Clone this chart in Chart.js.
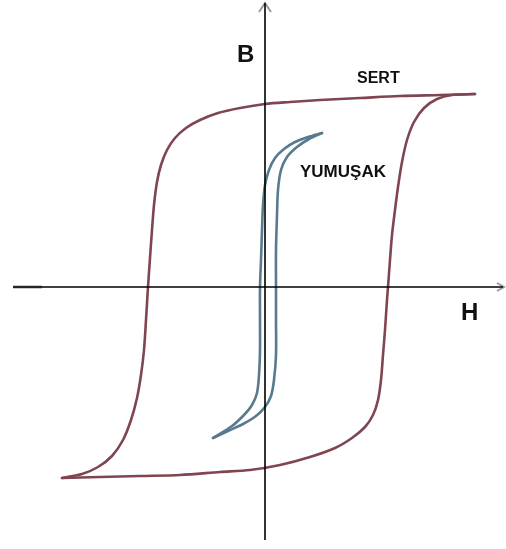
<!DOCTYPE html>
<html>
<head>
<meta charset="utf-8">
<script src="https://cdn.jsdelivr.net/npm/chart.js@4/dist/chart.umd.min.js"></script>
<style>
  html, body { margin: 0; padding: 0; background: #ffffff; }
  #wrap { position: relative; width: 506px; height: 549px; }
</style>
</head>
<body>
<div id="wrap"><canvas id="c"></canvas></div>
<script>
// Hard material loop (SERT): descending branch (from +saturation) and ascending branch
const sertDownH = [2.10, 1.75, 1.35, 0.95, 0.55, 0.25, 0.00, -0.25, -0.47, -0.65, -0.79, -0.90, -0.98, -1.04, -1.08, -1.11, -1.13, -1.15, -1.17, -1.19, -1.21, -1.24, -1.28, -1.34, -1.42, -1.53, -1.67, -1.83, -2.03];
const sertDownB = [1.93, 1.92, 1.91, 1.89, 1.87, 1.85, 1.83, 1.79, 1.74, 1.67, 1.59, 1.49, 1.37, 1.22, 1.05, 0.82, 0.57, 0.29, 0.00, -0.33, -0.63, -0.88, -1.11, -1.33, -1.53, -1.69, -1.80, -1.87, -1.91];
const sertUpH = [-2.03, -1.65, -1.25, -0.85, -0.45, -0.15, 0.15, 0.45, 0.70, 0.87, 1.00, 1.08, 1.13, 1.16, 1.18, 1.20, 1.22, 1.23, 1.25, 1.27, 1.30, 1.33, 1.37, 1.42, 1.49, 1.59, 1.72, 1.87, 2.10];
const sertUpB = [-1.91, -1.90, -1.89, -1.88, -1.85, -1.83, -1.78, -1.70, -1.61, -1.51, -1.40, -1.28, -1.13, -0.93, -0.68, -0.43, -0.13, 0.00, 0.27, 0.52, 0.77, 1.00, 1.25, 1.47, 1.65, 1.79, 1.88, 1.92, 1.93];

// Soft material loop (YUMUŞAK)
const yumDownH = [0.57, 0.43, 0.30, 0.19, 0.10, 0.04, 0.00, -0.02, -0.03, -0.04, -0.05, -0.05, -0.05, -0.06, -0.08, -0.13, -0.21, -0.33, -0.52];
const yumDownB = [1.54, 1.50, 1.45, 1.38, 1.29, 1.17, 1.02, 0.82, 0.57, 0.27, 0.00, -0.33, -0.63, -0.88, -1.06, -1.18, -1.28, -1.39, -1.51];
const yumUpH = [-0.52, -0.37, -0.22, -0.09, 0.00, 0.06, 0.09, 0.11, 0.11, 0.11, 0.11, 0.12, 0.13, 0.16, 0.22, 0.32, 0.44, 0.57];
const yumUpB = [-1.51, -1.44, -1.37, -1.29, -1.20, -1.09, -0.93, -0.68, -0.33, 0.00, 0.37, 0.72, 0.97, 1.17, 1.30, 1.40, 1.48, 1.54];

// Axis ranges (H and B, arbitrary units)
const hRange = [-2.65, 2.41];
const bRange = [-2.62, 2.87];

// Labels
const axisLabels = { b: 'B', h: 'H' };
const curveLabels = { hard: 'SERT', soft: 'YUMUŞAK' };

function pts(xs, ys) { return xs.map((x, i) => ({ x: x, y: ys[i] })); }

const hardColor = '#7f4551';
const softColor = '#587a8f';

function lineDs(data, color) {
  return {
    data: data,
    showLine: true,
    borderColor: color,
    borderWidth: 2.6,
    pointRadius: 0,
    tension: 0.3,
    fill: false,
    borderCapStyle: 'round',
    borderJoinStyle: 'round'
  };
}

const overlay = {
  id: 'overlay',
  afterDatasetsDraw(chart) {
    const ctx = chart.ctx;
    const xs = chart.scales.x, ys = chart.scales.y;
    const x0 = xs.getPixelForValue(0);
    const y0 = ys.getPixelForValue(0);
    ctx.save();
    // faint arrow remnants
    ctx.strokeStyle = '#9a9a9a';
    ctx.lineWidth = 2;
    ctx.beginPath();
    ctx.moveTo(x0 - 6, 12); ctx.lineTo(x0, 3); ctx.lineTo(x0 + 6, 12);
    ctx.stroke();
    ctx.beginPath();
    ctx.moveTo(497, y0 - 4); ctx.lineTo(504, y0); ctx.lineTo(497, y0 + 4);
    ctx.stroke();
    ctx.lineWidth = 3;
    ctx.beginPath();
    ctx.moveTo(13, y0); ctx.lineTo(42, y0);
    ctx.stroke();
    // axes
    ctx.strokeStyle = '#000000';
    ctx.lineWidth = 1.6;
    ctx.beginPath();
    ctx.moveTo(x0, 3); ctx.lineTo(x0, 540);
    ctx.moveTo(13, y0); ctx.lineTo(503, y0);
    ctx.stroke();
    // labels
    ctx.fillStyle = '#111111';
    ctx.textBaseline = 'alphabetic';
    ctx.textAlign = 'left';
    ctx.font = 'bold 24px "Liberation Sans", Arial, sans-serif';
    ctx.fillText(axisLabels.b, x0 - 28, 62);
    ctx.fillText(axisLabels.h, 461, y0 + 33);
    ctx.font = 'bold 16px "Liberation Sans", Arial, sans-serif';
    ctx.fillText(curveLabels.hard, 357, 83);
    ctx.font = 'bold 17px "Liberation Sans", Arial, sans-serif';
    ctx.fillText(curveLabels.soft, 300, 177);
    ctx.restore();
  }
};

new Chart(document.getElementById('c'), {
  type: 'scatter',
  data: {
    datasets: [
      lineDs(pts(sertDownH, sertDownB), hardColor),
      lineDs(pts(sertUpH, sertUpB), hardColor),
      lineDs(pts(yumDownH, yumDownB), softColor),
      lineDs(pts(yumUpH, yumUpB), softColor)
    ]
  },
  options: {
    responsive: true,
    maintainAspectRatio: false,
    animation: false,
    layout: { padding: 0 },
    plugins: { legend: { display: false }, tooltip: { enabled: false } },
    scales: {
      x: { type: 'linear', display: false, min: hRange[0], max: hRange[1] },
      y: { type: 'linear', display: false, min: bRange[0], max: bRange[1] }
    }
  },
  plugins: [overlay]
});
</script>
</body>
</html>
